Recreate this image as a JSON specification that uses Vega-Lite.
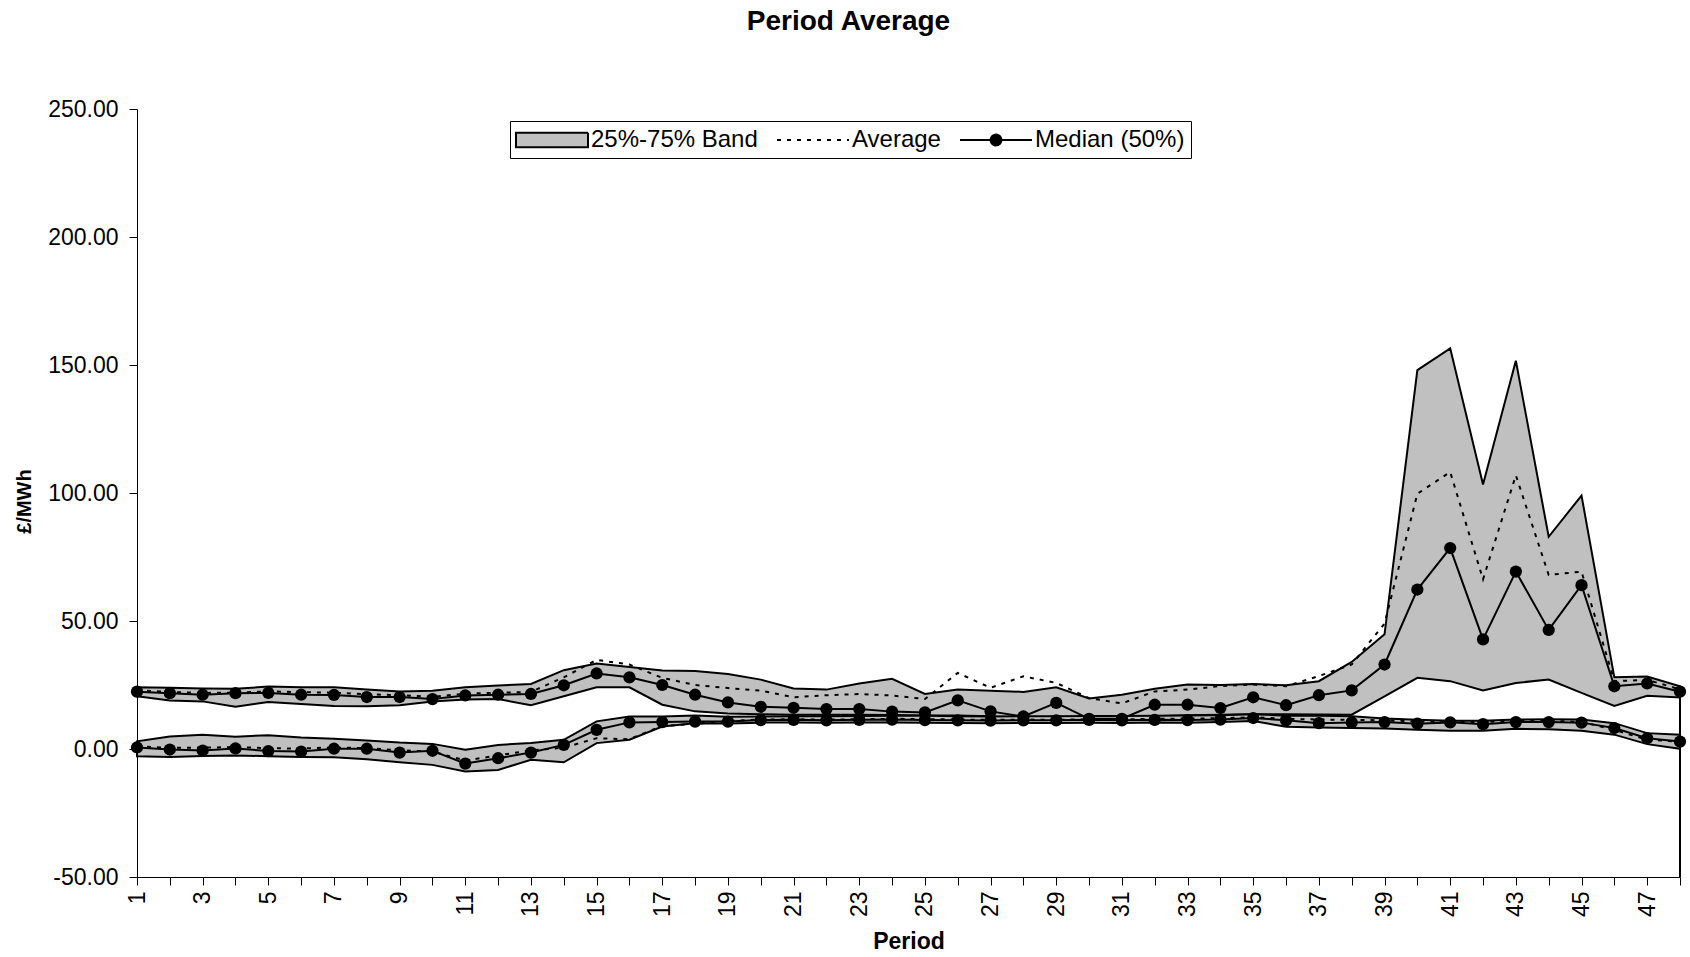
{
  "$schema": "https://vega.github.io/schema/vega-lite/v6.json",
  "width": 1543,
  "height": 768,
  "autosize": {"type": "none"},
  "padding": {"left": 137, "top": 109, "right": 10, "bottom": 80},
  "background": "white",
  "title": {"text": "Period Average", "fontSize": 28, "fontWeight": "bold", "font": "Liberation Sans", "color": "black", "anchor": "middle", "frame": "group", "dx": -60, "offset": 62},
  "config": {
    "font": "Liberation Sans",
    "locale": {"number": {"decimal": ".", "thousands": ",", "grouping": [3], "currency": ["", ""], "minus": "-"}},
    "view": {"stroke": null},
    "axis": {"labelFont": "Liberation Sans", "labelFontSize": 23, "labelColor": "black", "titleFont": "Liberation Sans", "titleFontSize": 23, "titleFontWeight": "bold", "titleColor": "black", "domainColor": "black", "tickColor": "black", "tickSize": 8, "grid": false, "domainWidth": 1, "tickWidth": 1, "labelOverlap": false, "labelFlush": false},
    "axisX": {"labelAngle": 270, "labelPadding": 6, "titlePadding": 14},
    "axisY": {"labelPadding": 11, "titlePadding": 13, "titleFontSize": 20, "titleY": 392},
    "legend": {
      "title": null, "orient": "none", "direction": "horizontal", "legendX": 373, "legendY": 12,
      "labelFontSize": 24, "labelFont": "Liberation Sans", "labelColor": "black", "labelLimit": 400,
      "symbolSize": 576, "symbolOffset": 23, "labelOffset": 26, "columnPadding": 15, "padding": 6,
      "strokeColor": "black", "fillColor": "white", "symbolOpacity": 1, "symbolStrokeColor": "black", "symbolStrokeWidth": 2
    }
  },
  "datasets": {
    "stats": [
      {"period":1,"g":"U","p25":20.6,"p75":24.1,"avg":23.0,"med":22.4},
      {"period":2,"g":"U","p25":18.9,"p75":23.9,"avg":22.3,"med":21.8},
      {"period":3,"g":"U","p25":18.6,"p75":23.6,"avg":21.9,"med":21.2},
      {"period":4,"g":"U","p25":16.5,"p75":23.5,"avg":22.0,"med":21.8},
      {"period":5,"g":"U","p25":18.4,"p75":24.4,"avg":22.5,"med":21.9},
      {"period":6,"g":"U","p25":17.6,"p75":24.1,"avg":22.2,"med":21.2},
      {"period":7,"g":"U","p25":16.8,"p75":24.1,"avg":22.0,"med":21.1},
      {"period":8,"g":"U","p25":16.7,"p75":23.2,"avg":21.4,"med":20.3},
      {"period":9,"g":"U","p25":17.1,"p75":22.5,"avg":21.0,"med":20.3},
      {"period":10,"g":"U","p25":18.6,"p75":22.8,"avg":20.4,"med":19.5},
      {"period":11,"g":"U","p25":19.3,"p75":24.1,"avg":21.6,"med":20.9},
      {"period":12,"g":"U","p25":19.5,"p75":24.8,"avg":22.0,"med":21.2},
      {"period":13,"g":"U","p25":17.1,"p75":25.4,"avg":22.3,"med":21.5},
      {"period":14,"g":"U","p25":20.6,"p75":30.8,"avg":28.0,"med":24.9},
      {"period":15,"g":"U","p25":24.1,"p75":33.4,"avg":34.8,"med":29.5},
      {"period":16,"g":"U","p25":24.1,"p75":32.0,"avg":33.0,"med":28.0},
      {"period":17,"g":"U","p25":17.3,"p75":30.7,"avg":27.8,"med":25.0},
      {"period":18,"g":"U","p25":14.7,"p75":30.5,"avg":25.0,"med":21.2},
      {"period":19,"g":"U","p25":13.9,"p75":29.3,"avg":23.8,"med":18.2},
      {"period":20,"g":"U","p25":13.6,"p75":27.1,"avg":22.8,"med":16.5},
      {"period":21,"g":"U","p25":13.4,"p75":23.6,"avg":20.2,"med":16.1},
      {"period":22,"g":"U","p25":13.4,"p75":23.2,"avg":21.0,"med":15.6},
      {"period":23,"g":"U","p25":13.4,"p75":25.6,"avg":21.5,"med":15.6},
      {"period":24,"g":"U","p25":13.3,"p75":27.4,"avg":20.9,"med":14.6},
      {"period":25,"g":"U","p25":13.1,"p75":21.5,"avg":19.5,"med":14.3},
      {"period":26,"g":"U","p25":13.1,"p75":23.2,"avg":29.7,"med":19.0},
      {"period":27,"g":"U","p25":12.8,"p75":22.8,"avg":23.9,"med":14.7},
      {"period":28,"g":"U","p25":11.8,"p75":22.3,"avg":28.4,"med":12.7},
      {"period":29,"g":"U","p25":12.8,"p75":24.1,"avg":25.8,"med":18.0},
      {"period":30,"g":"U","p25":11.2,"p75":19.7,"avg":19.9,"med":11.8},
      {"period":31,"g":"U","p25":11.2,"p75":21.2,"avg":17.8,"med":11.8},
      {"period":32,"g":"U","p25":12.8,"p75":23.5,"avg":22.5,"med":17.3},
      {"period":33,"g":"U","p25":13.2,"p75":25.2,"avg":23.2,"med":17.3},
      {"period":34,"g":"U","p25":13.4,"p75":25.0,"avg":24.6,"med":16.0},
      {"period":35,"g":"U","p25":13.6,"p75":25.4,"avg":25.2,"med":20.2},
      {"period":36,"g":"U","p25":13.6,"p75":24.9,"avg":24.5,"med":17.1},
      {"period":37,"g":"U","p25":13.5,"p75":26.5,"avg":28.5,"med":21.0},
      {"period":38,"g":"U","p25":13.4,"p75":34.0,"avg":33.0,"med":22.9},
      {"period":39,"g":"U","p25":20.6,"p75":44.8,"avg":49.0,"med":33.0},
      {"period":40,"g":"U","p25":27.8,"p75":148.0,"avg":99.7,"med":62.3},
      {"period":41,"g":"U","p25":26.5,"p75":156.5,"avg":108.2,"med":78.5},
      {"period":42,"g":"U","p25":22.9,"p75":103.3,"avg":66.3,"med":42.8},
      {"period":43,"g":"U","p25":25.8,"p75":151.7,"avg":106.9,"med":69.3},
      {"period":44,"g":"U","p25":27.1,"p75":82.9,"avg":68.0,"med":46.5},
      {"period":45,"g":"U","p25":21.9,"p75":99.0,"avg":69.3,"med":64.0},
      {"period":46,"g":"U","p25":16.8,"p75":28.0,"avg":26.5,"med":24.5},
      {"period":47,"g":"U","p25":20.8,"p75":28.3,"avg":27.0,"med":25.6},
      {"period":48,"g":"U","p25":20.1,"p75":24.5,"avg":23.3,"med":22.4},
      {"period":1,"g":"L","p25":-2.8,"p75":3.0,"avg":1.0,"med":0.6},
      {"period":2,"g":"L","p25":-3.1,"p75":4.9,"avg":0.5,"med":-0.2},
      {"period":3,"g":"L","p25":-2.7,"p75":5.6,"avg":0.5,"med":-0.6},
      {"period":4,"g":"L","p25":-2.5,"p75":4.8,"avg":0.8,"med":0.2},
      {"period":5,"g":"L","p25":-2.8,"p75":5.4,"avg":0.3,"med":-0.8},
      {"period":6,"g":"L","p25":-3.1,"p75":4.5,"avg":0.2,"med":-1.0},
      {"period":7,"g":"L","p25":-3.2,"p75":4.0,"avg":0.6,"med":0.1},
      {"period":8,"g":"L","p25":-4.0,"p75":3.3,"avg":0.3,"med":0.1},
      {"period":9,"g":"L","p25":-5.2,"p75":2.5,"avg":-0.5,"med":-1.4},
      {"period":10,"g":"L","p25":-6.2,"p75":2.0,"avg":-1.0,"med":-0.7},
      {"period":11,"g":"L","p25":-8.8,"p75":-0.3,"avg":-4.5,"med":-5.7},
      {"period":12,"g":"L","p25":-8.2,"p75":1.6,"avg":-2.5,"med":-3.6},
      {"period":13,"g":"L","p25":-4.2,"p75":2.3,"avg":-0.5,"med":-1.4},
      {"period":14,"g":"L","p25":-5.2,"p75":3.6,"avg":0.5,"med":1.6},
      {"period":15,"g":"L","p25":2.3,"p75":10.8,"avg":4.2,"med":7.5},
      {"period":16,"g":"L","p25":3.6,"p75":12.7,"avg":3.8,"med":10.4},
      {"period":17,"g":"L","p25":8.8,"p75":12.7,"avg":9.0,"med":10.5},
      {"period":18,"g":"L","p25":10.1,"p75":13.1,"avg":9.8,"med":10.7},
      {"period":19,"g":"L","p25":10.0,"p75":12.6,"avg":10.9,"med":10.7},
      {"period":20,"g":"L","p25":10.3,"p75":12.7,"avg":11.5,"med":11.3},
      {"period":21,"g":"L","p25":10.4,"p75":12.8,"avg":11.6,"med":11.4},
      {"period":22,"g":"L","p25":10.3,"p75":12.8,"avg":11.5,"med":11.2},
      {"period":23,"g":"L","p25":10.4,"p75":12.9,"avg":11.6,"med":11.4},
      {"period":24,"g":"L","p25":10.4,"p75":13.0,"avg":11.8,"med":11.5},
      {"period":25,"g":"L","p25":10.3,"p75":13.0,"avg":11.7,"med":11.3},
      {"period":26,"g":"L","p25":10.2,"p75":12.8,"avg":11.5,"med":11.2},
      {"period":27,"g":"L","p25":10.1,"p75":12.7,"avg":11.4,"med":11.1},
      {"period":28,"g":"L","p25":10.2,"p75":12.8,"avg":11.5,"med":11.2},
      {"period":29,"g":"L","p25":10.2,"p75":12.8,"avg":11.4,"med":11.2},
      {"period":30,"g":"L","p25":10.3,"p75":12.9,"avg":11.6,"med":11.4},
      {"period":31,"g":"L","p25":10.2,"p75":12.9,"avg":11.5,"med":11.2},
      {"period":32,"g":"L","p25":10.4,"p75":13.0,"avg":11.8,"med":11.4},
      {"period":33,"g":"L","p25":10.3,"p75":13.1,"avg":11.9,"med":11.3},
      {"period":34,"g":"L","p25":10.5,"p75":13.2,"avg":12.0,"med":11.5},
      {"period":35,"g":"L","p25":10.9,"p75":13.6,"avg":12.4,"med":12.1},
      {"period":36,"g":"L","p25":8.7,"p75":13.0,"avg":11.8,"med":11.2},
      {"period":37,"g":"L","p25":8.4,"p75":13.0,"avg":11.5,"med":10.1},
      {"period":38,"g":"L","p25":8.2,"p75":12.8,"avg":11.4,"med":10.4},
      {"period":39,"g":"L","p25":8.0,"p75":11.9,"avg":11.2,"med":10.5},
      {"period":40,"g":"L","p25":7.5,"p75":11.4,"avg":10.8,"med":9.9},
      {"period":41,"g":"L","p25":7.1,"p75":11.0,"avg":10.7,"med":10.4},
      {"period":42,"g":"L","p25":7.1,"p75":11.0,"avg":10.5,"med":9.7},
      {"period":43,"g":"L","p25":7.9,"p75":11.5,"avg":11.2,"med":10.5},
      {"period":44,"g":"L","p25":7.7,"p75":11.6,"avg":11.0,"med":10.5},
      {"period":45,"g":"L","p25":7.1,"p75":11.5,"avg":10.6,"med":10.3},
      {"period":46,"g":"L","p25":5.6,"p75":10.1,"avg":7.5,"med":8.2},
      {"period":47,"g":"L","p25":1.9,"p75":6.2,"avg":3.6,"med":4.2},
      {"period":48,"g":"L","p25":0.1,"p75":5.6,"avg":2.9,"med":2.9}
    ],
    "edge": [{"period": 48, "lo": -50, "hi": 24.5}],
    "keys": [{"series": "25%-75% Band"}, {"series": "Average"}, {"series": "Median (50%)"}]
  },
  "encoding": {
    "x": {
      "field": "period", "type": "quantitative",
      "scale": {"domain": [1, 48], "nice": false, "zero": false},
      "axis": {"title": "Period", "values": [1,2,3,4,5,6,7,8,9,10,11,12,13,14,15,16,17,18,19,20,21,22,23,24,25,26,27,28,29,30,31,32,33,34,35,36,37,38,39,40,41,42,43,44,45,46,47,48], "labelExpr": "datum.value % 2 === 1 ? datum.label : ''"}
    }
  },
  "layer": [
    {
      "data": {"name": "stats"},
      "mark": {"type": "area", "fill": "#c0c0c0", "stroke": "black", "strokeWidth": 2, "opacity": 1, "fillOpacity": 1},
      "encoding": {
        "y": {"field": "p25", "type": "quantitative", "scale": {"domain": [-50, 250], "nice": false}, "axis": {"title": "£/MWh", "values": [-50, 0, 50, 100, 150, 200, 250], "format": ".2f"}},
        "y2": {"field": "p75"},
        "detail": {"field": "g"}
      }
    },
    {
      "data": {"name": "stats"},
      "mark": {"type": "line", "stroke": "black", "strokeWidth": 2, "strokeDash": [4, 6]},
      "encoding": {
        "y": {"field": "avg", "type": "quantitative"},
        "detail": {"field": "g"}
      }
    },
    {
      "data": {"name": "stats"},
      "mark": {"type": "line", "stroke": "black", "strokeWidth": 2},
      "encoding": {
        "y": {"field": "med", "type": "quantitative"},
        "detail": {"field": "g"}
      }
    },
    {
      "data": {"name": "stats"},
      "mark": {"type": "point", "filled": true, "fill": "black", "stroke": null, "size": 150, "opacity": 1, "shape": "circle"},
      "encoding": {
        "y": {"field": "med", "type": "quantitative"}
      }
    },
    {
      "data": {"name": "edge"},
      "mark": {"type": "rule", "stroke": "black", "strokeWidth": 2},
      "encoding": {
        "y": {"field": "lo", "type": "quantitative"},
        "y2": {"field": "hi"}
      }
    },
    {
      "data": {"name": "keys"},
      "transform": [{"filter": "false"}],
      "mark": {"type": "point", "filled": true, "strokeWidth": 2, "opacity": 1},
      "encoding": {
        "x": {"datum": 1, "type": "quantitative"},
        "y": {"datum": 0, "type": "quantitative"},
        "fill": {
          "field": "series", "type": "nominal",
          "scale": {"domain": ["25%-75% Band", "Average", "Median (50%)"], "range": ["#c0c0c0", "transparent", "black"]}
        },
        "stroke": {
          "field": "series", "type": "nominal",
          "scale": {"domain": ["25%-75% Band", "Average", "Median (50%)"], "range": ["black", "black", "black"]}
        },
        "shape": {
          "field": "series", "type": "nominal",
          "scale": {"domain": ["25%-75% Band", "Average", "Median (50%)"], "range": ["M-3,-0.6H3V0.6H-3Z", "M-3,0H3", "M-3,0H3M-0.45,0A0.45,0.45,0,1,0,0.45,0A0.45,0.45,0,1,0,-0.45,0Z"]}
        },
        "strokeDash": {
          "field": "series", "type": "nominal",
          "scale": {"domain": ["25%-75% Band", "Average", "Median (50%)"], "range": [[1, 0], [4, 6], [1, 0]]}
        }
      }
    }
  ]
}
